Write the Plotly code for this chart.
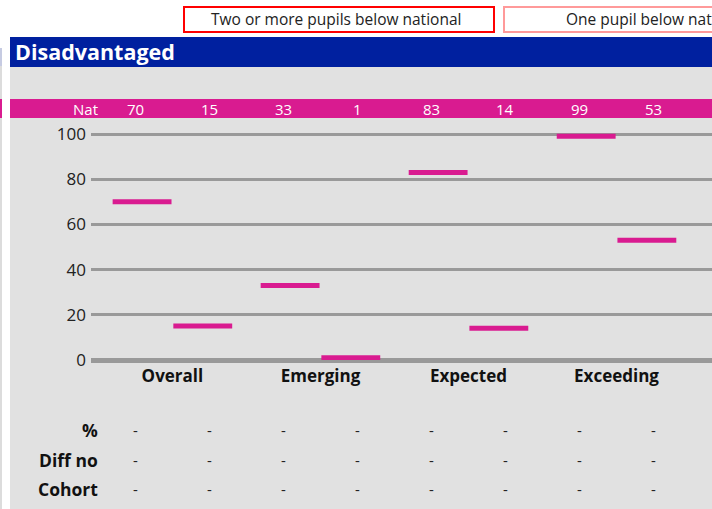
import plotly.graph_objects as go

W, H = 712, 509

# ---- data ----
categories = ["Overall", "Emerging", "Expected", "Exceeding"]
nat_first = [70, 33, 83, 99]
nat_second = [15, 1, 14, 53]
row_labels = ["%", "Diff no", "Cohort"]
pct_first = ["-", "-", "-", "-"]
pct_second = ["-", "-", "-", "-"]
diff_first = ["-", "-", "-", "-"]
diff_second = ["-", "-", "-", "-"]
cohort_first = ["-", "-", "-", "-"]
cohort_second = ["-", "-", "-", "-"]
y_ticks = [0, 20, 40, 60, 80, 100]
legend_labels = ["Two or more pupils below national", "One pupil below national"]
title = "Disadvantaged"

MAGENTA = "#d91b90"
BLUE = "#00209f"
PANEL = "#e1e1e1"
GRID = "#999999"
FONT = "Open Sans"


def X(px):
    return px / W


def Y(py):
    return 1 - py / H


PX_PER_UNIT = 2.26
Y_TOP = 101
THICK = 2.2  # marker thickness in data units

fig = go.Figure()
fig.add_trace(go.Bar(x=categories, y=[THICK] * len(nat_first),
                     base=[v - THICK / 2 for v in nat_first],
                     marker=dict(color=MAGENTA, line=dict(width=0)),
                     hoverinfo="skip", showlegend=False))
fig.add_trace(go.Bar(x=categories, y=[THICK] * len(nat_second),
                     base=[v - THICK / 2 for v in nat_second],
                     marker=dict(color=MAGENTA, line=dict(width=0)),
                     hoverinfo="skip", showlegend=False))

shapes = []
# left remnant strip
shapes.append(dict(type="rect", xref="paper", yref="paper", x0=X(0), x1=X(2), y0=Y(509), y1=Y(48),
                   fillcolor="#dcdcdc", line=dict(width=0), layer="below"))
shapes.append(dict(type="rect", xref="paper", yref="paper", x0=X(0), x1=X(2), y0=Y(66), y1=Y(48),
                   fillcolor="#c6cbe2", line=dict(width=0), layer="below"))
shapes.append(dict(type="rect", xref="paper", yref="paper", x0=X(0), x1=X(2), y0=Y(118), y1=Y(99),
                   fillcolor=MAGENTA, line=dict(width=0), layer="below"))
# panel
shapes.append(dict(type="rect", xref="paper", yref="paper", x0=X(10), x1=X(720), y0=Y(515), y1=Y(67),
                   fillcolor=PANEL, line=dict(width=0), layer="below"))
# header
shapes.append(dict(type="rect", xref="paper", yref="paper", x0=X(10), x1=X(720), y0=Y(67), y1=Y(37),
                   fillcolor=BLUE, line=dict(width=0), layer="below"))
# magenta nat band
shapes.append(dict(type="rect", xref="paper", yref="paper", x0=X(10), x1=X(720), y0=Y(118), y1=Y(99),
                   fillcolor=MAGENTA, line=dict(width=0), layer="below"))
# legend boxes
shapes.append(dict(type="rect", xref="paper", yref="paper", x0=X(184), x1=X(494), y0=Y(32), y1=Y(7),
                   fillcolor="white", line=dict(width=2, color="#ff0000"), layer="below"))
shapes.append(dict(type="rect", xref="paper", yref="paper", x0=X(504), x1=X(814), y0=Y(32), y1=Y(7),
                   fillcolor="white", line=dict(width=2, color="#ff9a9a"), layer="below"))

ann = []
ann.append(dict(text=legend_labels[0], xref="paper", yref="paper", x=X(336), y=Y(19.5),
                xanchor="center", yanchor="middle", showarrow=False,
                font=dict(family=FONT, size=15.5, color="#222")))
ann.append(dict(text=legend_labels[1], xref="paper", yref="paper", x=X(656), y=Y(19.5),
                xanchor="center", yanchor="middle", showarrow=False,
                font=dict(family=FONT, size=15.5, color="#222")))
ann.append(dict(text="<b>" + title + "</b>", xref="paper", yref="paper", x=X(13), y=Y(51),
                xanchor="left", yanchor="middle", showarrow=False,
                font=dict(family=FONT, size=21.5, color="white")))

# Nat row
ann.append(dict(text="Nat", xref="paper", yref="paper", x=X(100), y=Y(109),
                xanchor="right", yanchor="middle", showarrow=False,
                font=dict(family=FONT, size=15, color="white")))
for i in range(len(categories)):
    for off, vals in ((-0.25, nat_first), (0.25, nat_second)):
        ann.append(dict(text=str(vals[i]), xref="x", yref="paper", x=i + off, y=Y(109),
                        xanchor="center", yanchor="middle", showarrow=False,
                        font=dict(family=FONT, size=15, color="white")))

# lower table rows
rows = [(pct_first, pct_second), (diff_first, diff_second), (cohort_first, cohort_second)]
row_y = [430, 460, 489]
for label, (a, b), py in zip(row_labels, rows, row_y):
    ann.append(dict(text="<b>" + label + "</b>", xref="paper", yref="paper", x=X(100), y=Y(py),
                    xanchor="right", yanchor="middle", showarrow=False,
                    font=dict(family=FONT, size=17.5, color="#111")))
    for i in range(len(categories)):
        for off, vals in ((-0.25, a), (0.25, b)):
            ann.append(dict(text=vals[i], xref="x", yref="paper", x=i + off, y=Y(py),
                            xanchor="center", yanchor="middle", showarrow=False,
                            font=dict(family=FONT, size=15, color="#222")))

fig.update_layout(
    template="none",
    width=W, height=H,
    margin=dict(l=0, r=0, t=0, b=0, pad=0, autoexpand=False),
    paper_bgcolor="white",
    plot_bgcolor="rgba(0,0,0,0)",
    barmode="group", bargap=0.18, bargroupgap=0.03,
    showlegend=False,
    shapes=shapes,
    annotations=ann,
    font=dict(family=FONT),
    xaxis=dict(domain=[X(91), 1], range=[-0.55, 3.645], showgrid=False, zeroline=False,
               showline=False, ticks="", automargin=False, ticklabelstandoff=4,
               tickvals=list(range(len(categories))),
               ticktext=["<b>" + c + "</b>" for c in categories],
               tickfont=dict(family=FONT, size=17, color="#111"),
               fixedrange=True),
    yaxis=dict(domain=[Y(360), Y(360 - Y_TOP * PX_PER_UNIT)], range=[0, Y_TOP], tickvals=y_ticks,
               showgrid=True, gridcolor=GRID, gridwidth=3,
               zeroline=True, zerolinecolor=GRID, zerolinewidth=5,
               showline=False, ticks="", automargin=False, ticklabelstandoff=4,
               tickfont=dict(family=FONT, size=17, color="#222"),
               fixedrange=True),
)

post = ("document.body.style.margin='0';document.body.style.padding='0';"
        "var d=document.getElementById('{plot_id}');"
        "d.style.position='absolute';d.style.left='0px';d.style.top='0px';")
fig.write_html("out.html", post_script=post, config={"displayModeBar": False})
